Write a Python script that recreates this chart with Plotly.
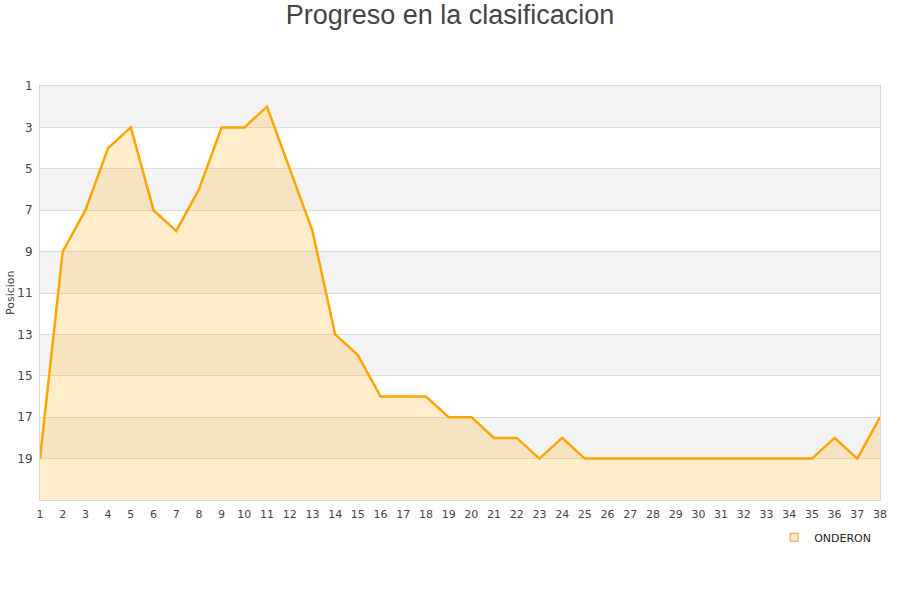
import plotly.graph_objects as go

jornadas = list(range(1, 39))
posiciones = [19, 9, 7, 4, 3, 7, 8, 6, 3, 3, 2, 5, 8, 13, 14, 16, 16, 16, 17, 17,
              18, 18, 19, 18, 19, 19, 19, 19, 19, 19, 19, 19, 19, 19, 19, 18, 19, 17]
equipo = "ONDERON"
fondo = 21
y_ticks = list(range(1, 20, 2))

fig = go.Figure()

# baseline for area fill
fig.add_trace(go.Scatter(x=jornadas, y=[fondo] * len(jornadas), mode="lines",
                         line=dict(width=0, color="rgba(0,0,0,0)"),
                         showlegend=False, hoverinfo="skip"))
fig.add_trace(go.Scatter(x=jornadas, y=posiciones, mode="lines",
                         line=dict(color="#ffa500", width=2.5),
                         fill="tonexty", fillcolor="rgba(255,165,0,0.2)",
                         showlegend=False, name=equipo))
# legend entry
fig.add_trace(go.Scatter(x=[None], y=[None], mode="markers", name=equipo,
                         marker=dict(symbol="square", size=8, color="#fde9c6",
                                     line=dict(color="#e0a040", width=1))))

shapes = []
for i, lo in enumerate(range(1, fondo, 2)):
    if i % 2 == 0:
        shapes.append(dict(type="rect", xref="paper", yref="y", x0=0, x1=1,
                           y0=lo, y1=lo + 2, fillcolor="#f3f3f3", line=dict(width=0),
                           layer="below"))

fig.update_layout(
    width=900, height=600,
    margin=dict(l=40, r=20, t=86, b=100, autoexpand=False),
    paper_bgcolor="white", plot_bgcolor="white",
    title=dict(text="Progreso en la clasificacion", x=0.5, xanchor="center",
               y=0.975, yanchor="middle",
               font=dict(family="Liberation Sans, Arial, sans-serif", size=27, color="#444")),
    shapes=shapes,
    annotations=[dict(text="Posicion", textangle=-90, xref="paper", yref="paper",
                      x=0, y=0.5, xanchor="center", yanchor="middle", xshift=-30,
                      showarrow=False, font=dict(family="DejaVu Sans", size=11, color="#444"))],
    showlegend=True,
    legend=dict(x=0.874, y=-0.09, xanchor="left", yanchor="middle",
                font=dict(family="DejaVu Sans", size=11, color="#222"),
                bgcolor="rgba(0,0,0,0)"),
    font=dict(family="DejaVu Sans", color="#444"),
)
fig.update_xaxes(range=[1, 38], tickmode="array", tickvals=jornadas,
                 showgrid=False, zeroline=False, automargin=False,
                 showline=True, linecolor="#d8d8d8", linewidth=1, mirror=True,
                 tickfont=dict(size=11, color="#444"), ticks="", ticklabelstandoff=4)
fig.update_yaxes(range=[fondo, 1], tickmode="array", tickvals=y_ticks,
                 showgrid=True, gridcolor="#dcdcdc", gridwidth=1, zeroline=False,
                 automargin=False,
                 showline=True, linecolor="#d8d8d8", linewidth=1, mirror=True,
                 tickfont=dict(size=12, color="#444"), ticks="", ticklabelstandoff=4)

fig.write_html("out.html", config={"displayModeBar": False},
               post_script="document.body.style.margin='0px';")
